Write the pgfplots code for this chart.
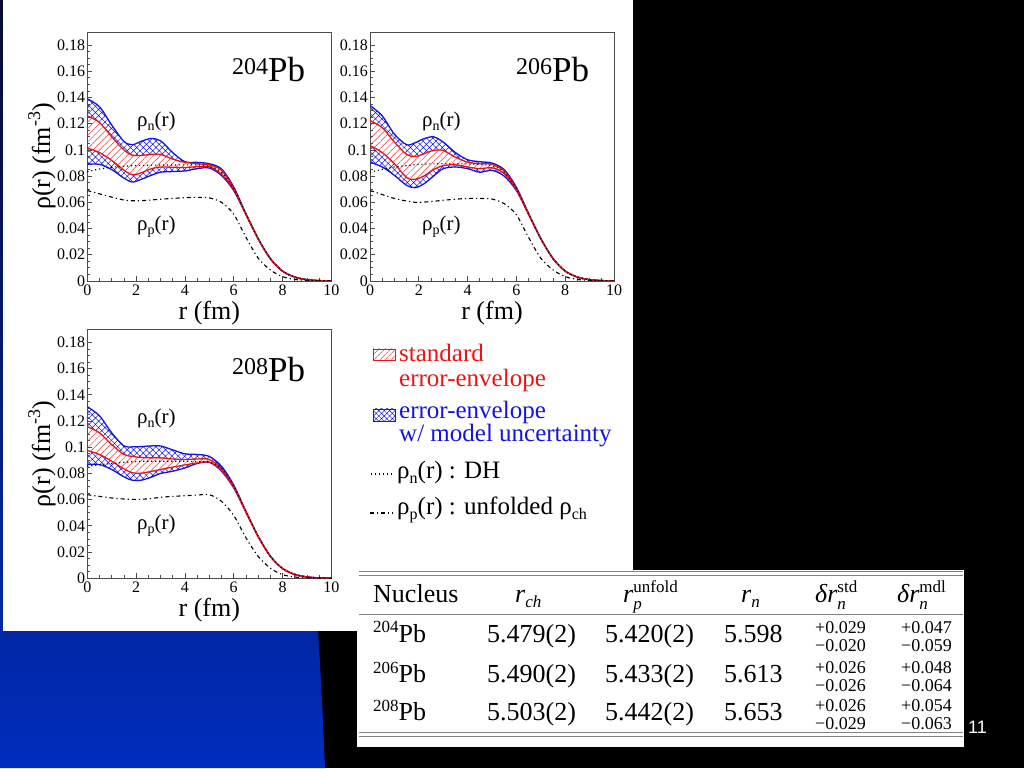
\documentclass[border=0pt]{standalone}
\usepackage{pgfplots}
\pgfplotsset{compat=1.18}
\usepackage{pgfplotstable}
\usepgfplotslibrary{fillbetween}
\usetikzlibrary{patterns.meta}
\usepackage{fontspec}
\setmainfont{Liberation Serif}
\newfontfamily\arialfont{Liberation Sans}
\newcommand\fs[1]{\fontsize{#1}{#1}\selectfont}
\definecolor{myred}{RGB}{235,20,20}
\definecolor{myblue}{RGB}{20,20,225}
\definecolor{slideblue}{RGB}{0,45,190}
\definecolor{rulegray}{RGB}{130,130,130}

\pgfplotsset{
  layers/mylayers/.define layer set={
    background,axis background,axis grid,axis ticks,axis lines,axis tick labels,
    pre main,main,axis descriptions,axis foreground
  }{},
  set layers=mylayers,
}

\pgfplotstableread{
r     BU     BL     RU     RL     DH     P
0     0.139  0.089  0.126  0.1015 0.0835 0.069
0.5   0.133  0.0890 0.121  0.098  0.0855 0.0665
1     0.119  0.0850 0.110  0.092  0.0868 0.064
1.5   0.1065 0.0785 0.100  0.0845 0.0875 0.0618
1.85  0.1040 0.0755 0.0960 0.0810 0.0880 0.0612
2.2   0.1065 0.0775 0.0958 0.0825 0.0882 0.0613
2.6   0.1087 0.0805 0.0966 0.0855 0.0884 0.0618
3     0.1070 0.0830 0.0966 0.0870 0.0885 0.0624
3.5   0.0980 0.0835 0.0930 0.0868 0.0885 0.0630
4     0.0910 0.0840 0.0905 0.0866 0.0886 0.0636
4.5   0.0905 0.0857 0.0895 0.0872 0.0886 0.0638
5     0.0895 0.0862 0.0885 0.0872 0.0875 0.0634
5.5   0.0855 0.0805 0.0845 0.0815 0.0830 0.0600
6     0.0718 0.0690 0.0708 0.0698 0.0705 0.0510
6.5   0.0515 0.0508 0.0512 0.0508 0.0512 0.0335
7     0.0325 0.0322 0.0324 0.0322 0.0324 0.0175
7.5   0.0172 0.0170 0.0171 0.0170 0.0171 0.0085
8     0.0076 0.0075 0.0076 0.0075 0.0076 0.0033
8.5   0.0030 0.0030 0.0030 0.0030 0.0030 0.0012
9     0.0010 0.0010 0.0010 0.0010 0.0010 0.0004
9.5   0.0003 0.0003 0.0003 0.0003 0.0003 0.0001
10    0.0001 0.0001 0.0001 0.0001 0.0001 0.0000
}\tabA

\pgfplotstableread{
r     BU     BL     RU     RL     DH     P
0     0.134  0.0907 0.1224 0.1034 0.0830 0.069
0.5   0.126  0.0870 0.117  0.098  0.0852 0.066
1     0.112  0.0806 0.106  0.0895 0.0870 0.063
1.5   0.104  0.0730 0.0966 0.0790 0.0880 0.0610
1.85  0.1055 0.0712 0.0950 0.0776 0.0888 0.0600
2.2   0.1085 0.0740 0.0970 0.0800 0.0892 0.0602
2.6   0.1100 0.0800 0.0996 0.0850 0.0894 0.0608
3     0.1060 0.0857 0.0996 0.0880 0.0895 0.0616
3.5   0.0980 0.0870 0.0945 0.0887 0.0895 0.0624
4     0.0925 0.0857 0.0907 0.0870 0.0893 0.0630
4.5   0.0910 0.0830 0.0895 0.0857 0.0888 0.0630
5     0.0900 0.0844 0.0890 0.0864 0.0880 0.0625
5.5   0.0850 0.0800 0.0840 0.0820 0.0830 0.0590
6     0.0715 0.0690 0.0705 0.0698 0.0705 0.0505
6.5   0.0515 0.0508 0.0512 0.0508 0.0512 0.0332
7     0.0325 0.0322 0.0324 0.0322 0.0324 0.0174
7.5   0.0172 0.0170 0.0171 0.0170 0.0171 0.0085
8     0.0076 0.0075 0.0076 0.0075 0.0076 0.0033
8.5   0.0030 0.0030 0.0030 0.0030 0.0030 0.0012
9     0.0010 0.0010 0.0010 0.0010 0.0010 0.0004
9.5   0.0003 0.0003 0.0003 0.0003 0.0003 0.0001
10    0.0001 0.0001 0.0001 0.0001 0.0001 0.0000
}\tabB

\pgfplotstableread{
r     BU     BL     RU     RL     DH     P
0     0.131  0.0868 0.1157 0.0975 0.0855 0.0638
0.5   0.124  0.0868 0.111  0.0945 0.0866 0.0625
1     0.111  0.0830 0.102  0.0893 0.0876 0.0613
1.5   0.101  0.0774 0.0945 0.0835 0.0885 0.0605
1.85  0.1003 0.0748 0.0930 0.0805 0.0890 0.0602
2.2   0.1005 0.0748 0.0922 0.0802 0.0893 0.0603
2.6   0.1010 0.0770 0.0919 0.0815 0.0893 0.0608
3     0.1010 0.0800 0.0919 0.0830 0.0893 0.0618
3.5   0.0980 0.0817 0.0910 0.0848 0.0893 0.0625
4     0.0950 0.0842 0.0906 0.0865 0.0893 0.0630
4.5   0.0945 0.0876 0.0910 0.0880 0.0891 0.0635
5     0.0930 0.0886 0.0906 0.0886 0.0886 0.0638
5.5   0.0855 0.0817 0.0837 0.0825 0.0840 0.0587
6     0.0712 0.0690 0.0702 0.0694 0.0705 0.0480
6.5   0.0512 0.0505 0.0510 0.0505 0.0510 0.0310
7     0.0322 0.0320 0.0321 0.0320 0.0321 0.0168
7.5   0.0170 0.0168 0.0169 0.0168 0.0169 0.0078
8     0.0075 0.0074 0.0075 0.0074 0.0075 0.0028
8.5   0.0030 0.0030 0.0030 0.0030 0.0030 0.0010
9     0.0010 0.0010 0.0010 0.0010 0.0010 0.0003
9.5   0.0003 0.0003 0.0003 0.0003 0.0003 0.0001
10    0.0001 0.0001 0.0001 0.0001 0.0001 0.0000
}\tabC

\pgfplotsset{
  panel/.style={
    scale only axis, width=244pt, height=249pt,
    anchor=south west,
    xmin=0, xmax=10, ymin=0, ymax=0.19,
    xtick={0,2,4,6,8,10},
    ytick={0,0.02,0.04,0.06,0.08,0.1,0.12,0.14,0.16,0.18},
    minor x tick num=3, minor y tick num=3,
    tick align=inside, tick pos=left,
    major tick length=5pt, minor tick length=3pt,
    axis line style={black!70, line width=0.9pt},
    tick style={black!70, line width=0.8pt},
    scaled ticks=false,
    /pgf/number format/assume math mode=true,
    yticklabel style={/pgf/number format/fixed, /pgf/number format/precision=2, font=\fs{16}, inner xsep=2pt},
    xticklabel style={font=\fs{16}},
    xlabel={r (fm)},
    xlabel style={font=\fs{26}, at={(axis description cs:0.5,-0.128)}, anchor=center},
    ylabel style={font=\fs{26}, at={(axis description cs:-0.186,0.5)}, anchor=center},
  },
}

\newcommand\panel[3]{%
\begin{axis}[panel, at={(#2)}, #3]
  \addplot[name path=BU, myblue, line width=1.3pt, smooth] table[x=r,y=BU]{#1};
  \addplot[name path=BL, myblue, line width=1.3pt, smooth] table[x=r,y=BL]{#1};
  \addplot[draw=none, pattern={Hatch[angle=45,distance=4.5pt,line width=0.5pt]}, pattern color=myblue] fill between[of=BU and BL];
  \addplot[name path=RU, myred, line width=1.3pt, smooth] table[x=r,y=RU]{#1};
  \addplot[name path=RL, myred, line width=1.3pt, smooth] table[x=r,y=RL]{#1};
  \addplot[fill=white, draw=none] fill between[of=RU and RL];
  \addplot[draw=none, pattern={Lines[angle=45,distance=4.7pt,line width=0.5pt]}, pattern color=myred!85] fill between[of=RU and RL];
  \addplot[black, line width=1.1pt, dash pattern=on 1.2pt off 2.8pt, smooth] table[x=r,y=DH]{#1};
  \addplot[black, line width=1.1pt, dash pattern=on 4pt off 3pt on 1.2pt off 3pt, smooth] table[x=r,y=P]{#1};
\end{axis}}

\begin{document}
\begin{tikzpicture}[x=1pt,y=1pt]
\panel{\tabA}{87.3pt,487pt}{ylabel={ρ(r) (fm\raisebox{10pt}{\fs{18}-3})}}
\panel{\tabB}{370pt,487pt}{}
\panel{\tabC}{87.3pt,189.7pt}{ylabel={ρ(r) (fm\raisebox{10pt}{\fs{18}-3})}}

\begin{pgfonlayer}{background}
\fill[black] (0,0) rectangle (1024,768);
\shade[top color={rgb,255:red,8;green,10;blue,45}, bottom color=slideblue]
  (0,0) -- (325,0) .. controls (322,70) .. (318,137) -- (318,768) -- (0,768) -- cycle;
\fill[white] (3,137) rectangle (633,768);
\end{pgfonlayer}

% isotope labels
\begin{scope}[every node/.style={anchor=base west, inner sep=0pt}]
\node at (232,686) {\raisebox{7pt}{\fs{24}204}\fs{35}Pb};
\node at (516,686) {\raisebox{7pt}{\fs{24}206}\fs{35}Pb};
\node at (232,386) {\raisebox{7pt}{\fs{24}208}\fs{35}Pb};
\node[font=\fs{21}] at (137,641) {ρ\raisebox{-4pt}{\fs{14}n}(r)};
\node[font=\fs{21}] at (137,537) {ρ\raisebox{-4pt}{\fs{14}p}(r)};
\node[font=\fs{21}] at (422,641) {ρ\raisebox{-4pt}{\fs{14}n}(r)};
\node[font=\fs{21}] at (422,537) {ρ\raisebox{-4pt}{\fs{14}p}(r)};
\node[font=\fs{21}] at (137,344) {ρ\raisebox{-4pt}{\fs{14}n}(r)};
\node[font=\fs{21}] at (137,238) {ρ\raisebox{-4pt}{\fs{14}p}(r)};

% legend
\draw[myred, line width=0.8pt, pattern={Lines[angle=45,distance=4pt,line width=0.5pt]}, pattern color=myred] (373,408) rectangle (395,419);
\node[font=\fs{25}, text=myred] at (399,406) {standard};
\node[font=\fs{25}, text=myred] at (399,381) {error-envelope};
\draw[myblue, line width=0.8pt, pattern={Hatch[angle=45,distance=3.8pt,line width=0.5pt]}, pattern color=myblue] (373,347) rectangle (395,359);
\node[font=\fs{25}, text=myblue] at (399,349) {error-envelope};
\node[font=\fs{25}, text=myblue] at (399,326) {w/ model uncertainty};
\draw[black, line width=1.1pt, dash pattern=on 1.2pt off 2.8pt] (371,294) -- (393,294);
\node[font=\fs{25}] at (397,289) {ρ\raisebox{-5pt}{\fs{16}n}(r) : DH};
\draw[black, line width=1.1pt, dash pattern=on 4pt off 3pt on 1.2pt off 3pt] (370,255) -- (393,255);
\node[font=\fs{25}] at (397,253) {ρ\raisebox{-5pt}{\fs{16}p}(r) : unfolded ρ\raisebox{-5pt}{\fs{16}ch}};
\end{scope}

% table
\fill[white] (357,21) rectangle (964,198);
\foreach \yy in {196,192.5,153,35.5,31.5} \draw[rulegray, line width=1pt] (359,\yy) -- (963,\yy);
\begin{scope}[every node/.style={anchor=base west, inner sep=0pt, font=\fs{26}}]
\node at (373,165) {Nucleus};
\node at (515,165) {\textit{r}\raisebox{-5pt}{\fs{17}\textit{ch}}};
\node at (623,165) {\textit{r}\rlap{\raisebox{10pt}{\fs{17}unfold}}\raisebox{-7pt}{\fs{17}\textit{p}}};
\node at (741,165) {\textit{r}\raisebox{-5pt}{\fs{17}\textit{n}}};
\node at (815,165) {\textit{δr}\rlap{\raisebox{10pt}{\fs{17}std}}\raisebox{-7pt}{\fs{17}\textit{n}}};
\node at (897,165) {\textit{δr}\rlap{\raisebox{10pt}{\fs{17}mdl}}\raisebox{-7pt}{\fs{17}\textit{n}}};
\node at (373,126) {\raisebox{9pt}{\fs{17}204}Pb};
\node at (373,86) {\raisebox{9pt}{\fs{17}206}Pb};
\node at (373,48) {\raisebox{9pt}{\fs{17}208}Pb};
\node at (487,126) {5.479(2)};
\node at (487,86) {5.490(2)};
\node at (487,48) {5.503(2)};
\node at (605,126) {5.420(2)};
\node at (605,86) {5.433(2)};
\node at (605,48) {5.442(2)};
\node at (724,126) {5.598};
\node at (724,86) {5.613};
\node at (724,48) {5.653};
\node[font=\fs{18}] at (815,135) {+0.029};
\node[font=\fs{18}] at (815,117) {−0.020};
\node[font=\fs{18}] at (815,95) {+0.026};
\node[font=\fs{18}] at (815,77) {−0.026};
\node[font=\fs{18}] at (815,57) {+0.026};
\node[font=\fs{18}] at (815,39) {−0.029};
\node[font=\fs{18}] at (901,135) {+0.047};
\node[font=\fs{18}] at (901,117) {−0.059};
\node[font=\fs{18}] at (901,95) {+0.048};
\node[font=\fs{18}] at (901,77) {−0.064};
\node[font=\fs{18}] at (901,57) {+0.054};
\node[font=\fs{18}] at (901,39) {−0.063};
\node[font=\arialfont\fs{18}, text=white] at (968,35) {11};
\end{scope}
\end{tikzpicture}
\end{document}
